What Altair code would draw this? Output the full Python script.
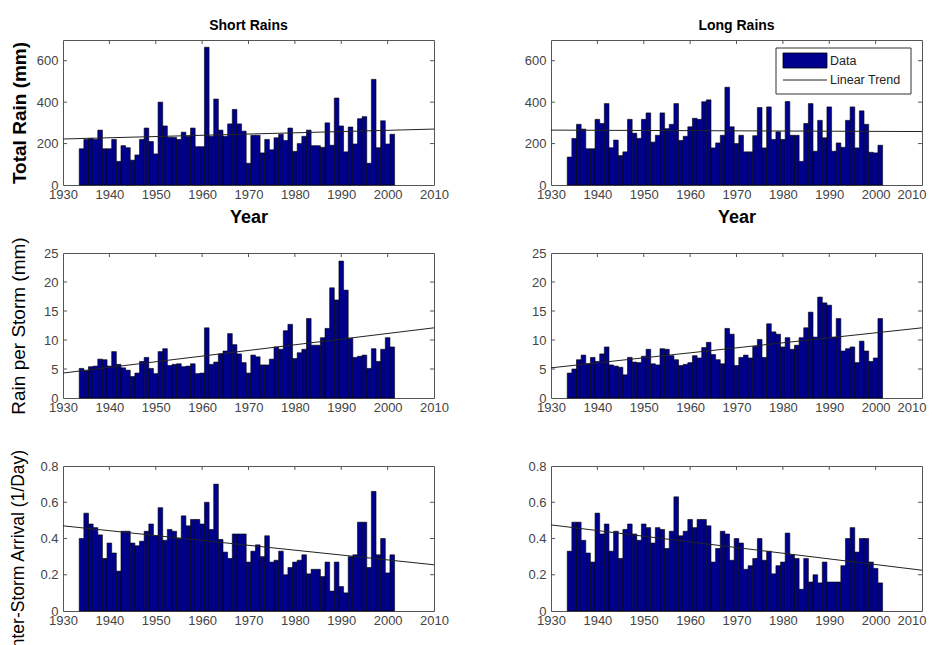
import altair as alt
import pandas as pd

# ---------------- data ----------------
years = list(range(1934, 2002))

short_total = [175, 220, 225, 220, 265, 175, 175, 220, 114, 190,
               180, 120, 145, 220, 275, 210, 150, 400, 285, 230,
               230, 220, 255, 235, 275, 185, 185, 665, 235, 415,
               265, 235, 295, 365, 295, 260, 105, 240, 240, 155,
               220, 170, 228, 245, 215, 275, 162, 200, 235, 265,
               190, 190, 182, 300, 192, 420, 285, 160, 280, 198,
               320, 330, 105, 510, 180, 310, 198, 245]
long_total = [135, 225, 293, 270, 175, 175, 317, 297, 393, 180,
              217, 142, 160, 317, 250, 225, 317, 348, 207, 240,
              348, 272, 293, 393, 215, 235, 281, 322, 317, 402,
              411, 179, 203, 240, 472, 281, 200, 240, 160, 160,
              238, 374, 179, 377, 220, 257, 220, 403, 240, 240,
              114, 297, 393, 163, 312, 228, 377, 163, 203, 182,
              312, 377, 179, 358, 293, 158, 155, 192]
short_storm = [5.1, 4.7, 5.4, 5.5, 6.7, 6.6, 5.5, 8.0, 5.8, 5.2,
               4.8, 3.7, 4.3, 6.3, 7.0, 5.1, 4.2, 8.0, 8.5, 5.6,
               5.8, 5.9, 5.4, 5.5, 5.9, 4.2, 4.3, 12.1, 5.8, 6.2,
               7.6, 8.1, 11.1, 9.2, 7.6, 6.1, 4.3, 7.4, 7.1, 5.7,
               5.7, 6.7, 8.8, 8.4, 11.6, 12.7, 6.8, 7.8, 8.4, 13.7,
               9.1, 9.1, 10.4, 12.0, 19.0, 16.9, 23.6, 18.6, 10.3, 7.0,
               7.2, 7.4, 5.1, 8.5, 6.3, 8.4, 10.4, 8.8]
long_storm = [4.3, 5.0, 6.6, 7.4, 5.9, 7.0, 6.3, 7.6, 8.8, 5.7,
              5.5, 5.3, 4.0, 7.0, 6.2, 6.1, 7.2, 8.4, 5.9, 5.7,
              8.5, 8.4, 7.3, 6.6, 5.6, 5.8, 6.1, 7.3, 6.9, 8.7,
              9.6, 7.5, 6.6, 5.9, 12.0, 11.0, 5.6, 7.0, 7.4, 6.9,
              8.9, 10.1, 7.0, 12.8, 11.4, 11.0, 8.8, 10.4, 8.4, 9.1,
              10.4, 12.1, 14.8, 10.5, 17.4, 16.4, 16.0, 10.5, 13.7, 8.1,
              8.5, 8.8, 6.1, 9.8, 8.1, 6.3, 6.9, 13.7]
short_arrival = [0.40, 0.54, 0.48, 0.46, 0.42, 0.29, 0.375, 0.32, 0.22, 0.44,
                 0.44, 0.375, 0.36, 0.385, 0.44, 0.48, 0.415, 0.57, 0.39, 0.45,
                 0.44, 0.40, 0.525, 0.47, 0.505, 0.505, 0.48, 0.60, 0.45, 0.70,
                 0.395, 0.325, 0.29, 0.425, 0.425, 0.425, 0.27, 0.33, 0.365, 0.30,
                 0.415, 0.27, 0.28, 0.33, 0.20, 0.24, 0.27, 0.28, 0.31, 0.205,
                 0.23, 0.23, 0.19, 0.27, 0.11, 0.27, 0.135, 0.10, 0.30, 0.31,
                 0.49, 0.49, 0.24, 0.66, 0.31, 0.40, 0.21, 0.31]
long_arrival = [0.33, 0.49, 0.49, 0.39, 0.32, 0.27, 0.54, 0.425, 0.48, 0.33,
                0.44, 0.29, 0.45, 0.48, 0.425, 0.39, 0.48, 0.46, 0.375, 0.46,
                0.45, 0.345, 0.44, 0.63, 0.415, 0.44, 0.505, 0.46, 0.505, 0.505,
                0.47, 0.27, 0.345, 0.44, 0.425, 0.28, 0.40, 0.375, 0.23, 0.25,
                0.29, 0.40, 0.28, 0.33, 0.205, 0.25, 0.27, 0.43, 0.31, 0.29,
                0.12, 0.29, 0.16, 0.20, 0.155, 0.27, 0.16, 0.16, 0.16, 0.25,
                0.40, 0.46, 0.325, 0.40, 0.40, 0.27, 0.235, 0.155]

trend_years = [1930, 2010]
short_total_trend = [222, 270]
long_total_trend = [265, 258]
short_storm_trend = [4.3, 12.1]
long_storm_trend = [5.2, 12.1]
short_arrival_trend = [0.47, 0.255]
long_arrival_trend = [0.475, 0.225]

x_ticks = [1930, 1940, 1950, 1960, 1970, 1980, 1990, 2000, 2010]
total_ticks = [0, 200, 400, 600]
storm_ticks = [0, 5, 10, 15, 20, 25]
arrival_ticks = [0, 0.2, 0.4, 0.6, 0.8]

col_titles = ["Short Rains", "Long Rains"]
row_titles = ["Total Rain (mm)", "Rain per Storm (mm)", "Inter-Storm Arrival (1/Day)"]
x_title = "Year"
legend_labels = ["Data", "Linear Trend"]

# ---------------- styling ----------------
W, H = 371, 145
BAR = "#00008F"
TXT = "#444444"
FRAME = "#555555"
FONT = "Liberation Sans"
TL = 4  # tick length


def panel(vals, trend, ymax, yticks, ytitle=None, ytitle_bold=False, ytitle_y=None,
          ytitle_size=18, ytitle_x=-44, title=None, xtitle=None, legend=False,
          right_col=False):
    df = pd.DataFrame({"year": years, "value": vals})
    tdf = pd.DataFrame({"year": trend_years, "value": trend})
    xt = pd.DataFrame({"year": [t for t in x_ticks if 1930 < t < 2010]})
    yt = pd.DataFrame({"value": [t for t in yticks if 0 < t < ymax]})

    xscale = alt.Scale(domain=[1930, 2010], nice=False, zero=False)
    yscale = alt.Scale(domain=[0, ymax], nice=False)

    xa = dict(values=x_ticks, format="d", ticks=False, domain=False, grid=False,
              labelFontSize=13, labelColor=TXT, labelPadding=3, labelFont=FONT,
              labelFlush=False, labelOverlap=False)
    if right_col:
        # keep the last label inside the page edge
        xa["labelAlign"] = {"condition": {"test": "datum.value >= 2010", "value": "right"},
                            "value": "center"}
        xa["labelOffset"] = {"condition": {"test": "datum.value >= 2010", "value": 4},
                             "value": 0}
    if xtitle:
        xa.update(title=xtitle, titleFontSize=18, titleFontWeight="bold", titleColor="black",
                  titleFont=FONT, titleY=32, titleBaseline="middle")
    else:
        xa["title"] = None
    ya = dict(values=yticks, format=".6~g", ticks=False, domain=False, grid=False,
              labelFontSize=13, labelColor=TXT, labelPadding=5, labelFont=FONT,
              labelOverlap=False)
    if ytitle:
        ya.update(title=ytitle, titleFontSize=ytitle_size,
                  titleFontWeight="bold" if ytitle_bold else "normal",
                  titleColor="black", titleFont=FONT, titleX=ytitle_x, titleBaseline="middle")
        if ytitle_y is not None:
            ya["titleY"] = ytitle_y
    else:
        ya["title"] = None
    xaxis = alt.Axis(**xa)
    yaxis = alt.Axis(**ya)

    xt_enc = alt.X("year:Q", scale=xscale, axis=xaxis)
    yt_enc = alt.Y("value:Q", scale=yscale, axis=yaxis)

    top_ticks = alt.Chart(xt).mark_rule(color=FRAME, strokeWidth=1).encode(
        x=xt_enc, y=alt.value(0), y2=alt.value(TL))
    bot_ticks = alt.Chart(xt).mark_rule(color=FRAME, strokeWidth=1).encode(
        x=xt_enc, y=alt.value(H - TL), y2=alt.value(H))
    left_ticks = alt.Chart(yt).mark_rule(color=FRAME, strokeWidth=1).encode(
        y=yt_enc, x=alt.value(0), x2=alt.value(TL))
    right_ticks = alt.Chart(yt).mark_rule(color=FRAME, strokeWidth=1).encode(
        y=yt_enc, x=alt.value(W - TL), x2=alt.value(W))

    bars = alt.Chart(df).transform_calculate(
        lo="datum.year - 0.5", hi="datum.year + 0.5"
    ).mark_bar(fill=BAR, stroke="black", strokeWidth=0.6).encode(
        x=alt.X("lo:Q", scale=xscale, axis=xaxis),
        x2="hi:Q",
        y=yt_enc,
        y2=alt.datum(0),
    )
    line = alt.Chart(tdf).mark_line(color="#222222", strokeWidth=1).encode(
        x=xt_enc, y=yt_enc)

    layers = [bot_ticks, top_ticks, left_ticks, right_ticks, bars, line]

    if legend:
        one = pd.DataFrame({"k": [0]})
        box = alt.Chart(one).mark_rect(fill="white", stroke="#333333", strokeWidth=1).encode(
            x=alt.value(225), x2=alt.value(360), y=alt.value(8), y2=alt.value(54))
        sw = alt.Chart(one).mark_rect(fill=BAR, stroke="black", strokeWidth=0.8).encode(
            x=alt.value(232), x2=alt.value(276), y=alt.value(13), y2=alt.value(28))
        sl = alt.Chart(one).mark_rule(color="#222222", strokeWidth=1).encode(
            x=alt.value(232), x2=alt.value(276), y=alt.value(40))
        t1 = alt.Chart(one).mark_text(align="left", baseline="middle", fontSize=12.5,
                                      font=FONT, color="#222222").encode(
            x=alt.value(279), y=alt.value(21), text=alt.value(legend_labels[0]))
        t2 = alt.Chart(one).mark_text(align="left", baseline="middle", fontSize=12.5,
                                      font=FONT, color="#222222").encode(
            x=alt.value(279), y=alt.value(40), text=alt.value(legend_labels[1]))
        layers += [box, sw, sl, t1, t2]

    ch = alt.layer(*layers).properties(width=W, height=H)
    if title:
        ch = ch.properties(title=alt.TitleParams(title, fontSize=14, fontWeight="bold",
                                                 font=FONT, color="black", offset=7,
                                                 anchor="middle"))
    return ch


p11 = panel(short_total, short_total_trend, 700, total_ticks, ytitle=row_titles[0],
            ytitle_bold=True, ytitle_size=19, ytitle_x=-44,
            title=col_titles[0], xtitle=x_title)
p12 = panel(long_total, long_total_trend, 700, total_ticks, title=col_titles[1],
            xtitle=x_title, legend=True, right_col=True)
p21 = panel(short_storm, short_storm_trend, 25, storm_ticks, ytitle=row_titles[1],
            ytitle_size=19, ytitle_x=-45)
p22 = panel(long_storm, long_storm_trend, 25, storm_ticks, right_col=True)
p31 = panel(short_arrival, short_arrival_trend, 0.8, arrival_ticks, ytitle=row_titles[2],
            ytitle_size=17.5, ytitle_x=-45, ytitle_y=85)
p32 = panel(long_arrival, long_arrival_trend, 0.8, arrival_ticks, right_col=True)

chart = alt.concat(p11, p12, p21, p22, p31, p32, columns=2,
                   spacing={"row": 68, "column": 117}, bounds="flush").properties(
    padding={"left": 0, "top": 10, "right": 0, "bottom": 0},
    background="white",
).configure_view(stroke=FRAME, strokeWidth=1)

chart.save("out.html", embed_options={"renderer": "svg", "actions": False})
